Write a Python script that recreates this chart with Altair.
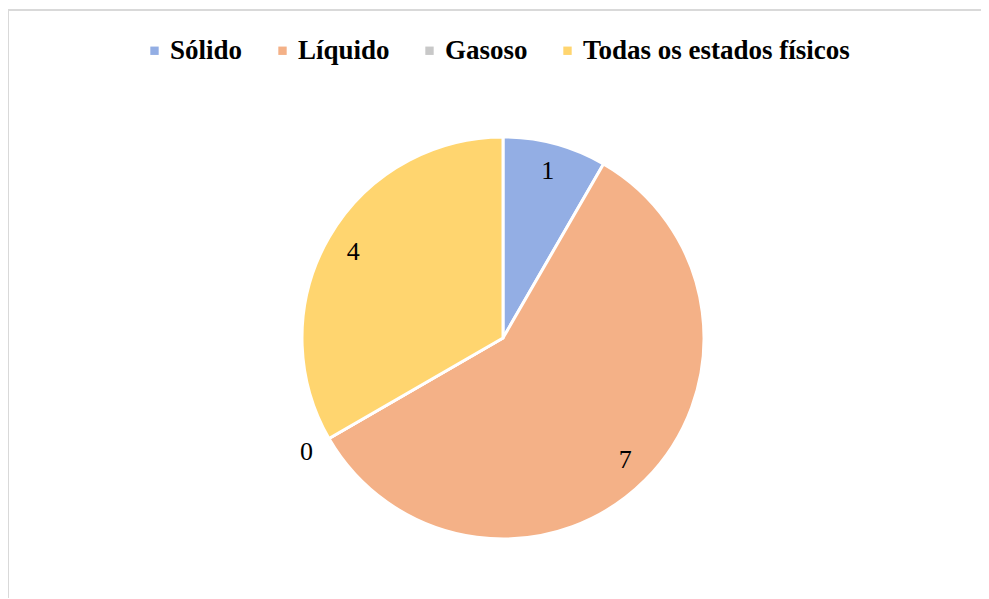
import altair as alt
import pandas as pd

categories = ["Sólido", "Líquido", "Gasoso", "Todas os estados físicos"]
values = [1, 7, 0, 4]
colors = ["#93aee4", "#f4b187", "#c8c8c8", "#ffd56f"]

df = pd.DataFrame({"cat": categories, "value": values, "idx": list(range(len(categories)))})

W, H = 973, 588
CX, CY = 495, 328

color_enc = alt.Color(
    "cat:N",
    scale=alt.Scale(domain=categories, range=colors),
    sort=categories,
    legend=alt.Legend(
        title=None,
        orient="none",
        legendX=133,
        legendY=27,
        direction="horizontal",
        symbolType="square",
        symbolSize=70,
        symbolStrokeWidth=0,
        labelFont="Liberation Serif",
        labelFontWeight="bold",
        labelFontSize=27,
        labelColor="#000000",
        labelLimit=400,
        labelOffset=2,
        columnPadding=26,
    ),
)

arcs = alt.Chart(df).mark_arc(outerRadius=201, stroke="white", strokeWidth=3).encode(
    theta=alt.Theta("value:Q", stack=True),
    order=alt.Order("idx:Q", sort="ascending"),
    color=color_enc,
    x=alt.value(CX),
    y=alt.value(CY),
)

labels = alt.Chart(df).transform_joinaggregate(
    total="sum(value)"
).transform_window(
    cum="sum(value)", sort=[alt.SortField("idx", order="ascending")], frame=[None, 0]
).transform_calculate(
    angle="2 * PI * (datum.cum - datum.value / 2) / datum.total",
    labelR="datum.value == 0 ? 227 : 173",
).mark_text(
    font="Liberation Serif", fontSize=26, color="#000000", baseline="middle", align="center"
).encode(
    text=alt.Text("value:Q"),
    theta=alt.Theta("angle:Q", scale=None),
    radius=alt.Radius("labelR:Q", scale=None),
    x=alt.value(CX),
    y=alt.value(CY),
)

border_df = pd.DataFrame({"k": [0]})
top_border = alt.Chart(border_df).mark_rule(color="#d9d9d9", strokeWidth=2).encode(
    x=alt.value(0), x2=alt.value(W), y=alt.value(0)
)
left_border = alt.Chart(border_df).mark_rule(color="#d9d9d9", strokeWidth=2).encode(
    x=alt.value(0), y=alt.value(0), y2=alt.value(H)
)

chart = alt.layer(top_border, left_border, arcs, labels).properties(
    width=W,
    height=H,
    padding={"left": 0, "top": 2, "right": 0, "bottom": 0},
    autosize=alt.AutoSizeParams(type="none"),
).configure_view(stroke="transparent").configure(background="white")

chart.save("out.html", embed_options={"renderer": "svg", "actions": False})
